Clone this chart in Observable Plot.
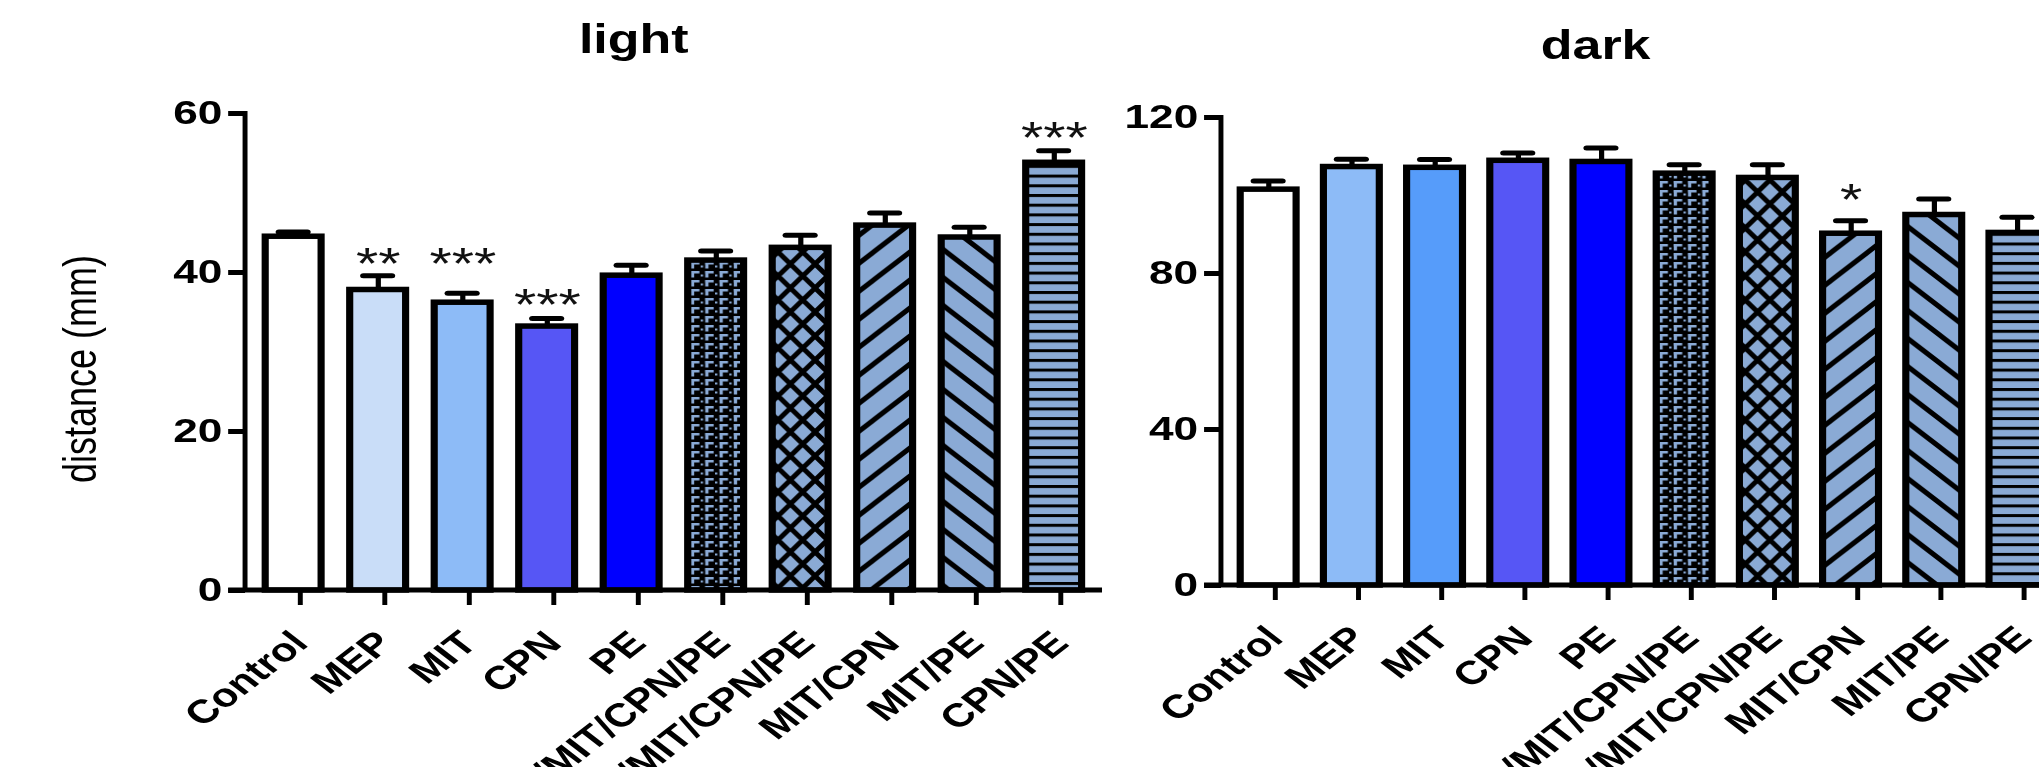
<!DOCTYPE html>
<html><head><meta charset="utf-8">
<script src="https://cdn.jsdelivr.net/npm/d3@7"></script>
<script src="https://cdn.jsdelivr.net/npm/@observablehq/plot@0.6"></script>
<style>
html,body{margin:0;padding:0;background:#fff;overflow:hidden;width:2039px;height:767px;}
#stage{position:absolute;left:0;top:0;width:1618px;height:767px;transform:scaleX(1.3);transform-origin:0 0;}
#light,#dark{position:absolute;top:0;}
#light{left:0px}
#dark{left:877px}
g[aria-label="x-axis tick label"] text, g[aria-label="y-axis tick label"] text{font-weight:bold;}
</style></head><body>
<svg width="0" height="0" style="position:absolute">
<defs>
<pattern id="brick" patternUnits="userSpaceOnUse" width="11" height="9">
 <rect width="11" height="9" fill="#000"/>
 <rect x="3.5" y="1" width="6.5" height="2.5" fill="#8aaad5"/>
 <rect x="3.5" y="1" width="2.5" height="6.5" fill="#8aaad5"/>
 <rect x="0" y="4.5" width="1.8" height="2" fill="#8aaad5"/>
</pattern>
<pattern id="cross" patternUnits="userSpaceOnUse" width="19" height="24">
 <rect width="19" height="24" fill="#8aaad5"/>
 <path d="M-19,-24L38,48M0,-24L57,48M-38,-24L19,48M38,-24L-19,48M57,-24L0,48M19,-24L-38,48" stroke="#000" stroke-width="4.2"/>
</pattern>
<pattern id="fwd" patternUnits="userSpaceOnUse" width="28" height="28">
 <rect width="28" height="28" fill="#8aaad5"/>
 <path d="M56,-28L-28,56M28,-28L-56,56M84,-28L0,56" stroke="#000" stroke-width="4.5"/>
</pattern>
<pattern id="back" patternUnits="userSpaceOnUse" width="28" height="28">
 <rect width="28" height="28" fill="#8aaad5"/>
 <path d="M-28,-28L56,56M0,-28L84,56M-56,-28L28,56" stroke="#000" stroke-width="4.5"/>
</pattern>
<pattern id="horiz" patternUnits="userSpaceOnUse" width="10" height="9.7">
 <rect width="10" height="9.7" fill="#8aaad5"/>
 <rect y="0" width="10" height="3" fill="#000"/>
</pattern>
</defs>
</svg>
<div id="stage"><div id="light"></div><div id="dark"></div></div>
<script>
// ---- data ----
const categories = ["Control","MEP","MIT","CPN","PE","MEP/MIT/CPN/PE","MEP/MIT/CPN/PE","MIT/CPN","MIT/PE","CPN/PE"];
const lightMean = [44.5, 37.8, 36.2, 33.2, 39.6, 41.5, 43.1, 45.9, 44.4, 53.8];
const lightErr  = [45.1, 39.6, 37.4, 34.2, 40.9, 42.7, 44.7, 47.5, 45.7, 55.3];
const darkMean  = [101.5, 107.3, 107.1, 108.9, 108.6, 105.6, 104.5, 90.2, 95.0, 90.4];
const darkErr   = [103.7, 109.3, 109.2, 110.9, 112.2, 107.9, 107.9, 93.5, 99.1, 94.4];
const lightFills = ["#ffffff","#c9ddf8","#8dbbf7","#5656f5","#0000ff","url(#brick)","url(#cross)","url(#fwd)","url(#back)","url(#horiz)"];
const darkFills  = ["#ffffff","#8dbbf7","#569cfa","#5656f5","#0000ff","url(#brick)","url(#cross)","url(#fwd)","url(#back)","url(#horiz)"];
const lightStarIdx = [1, 2, 3, 9];
const lightStarAt  = [42.4, 42.4, 37.2, 58.2];
const lightStarTxt = ["**", "***", "***", "***"];
const darkStarIdx = [7];
const darkStarAt  = [101.5];
const darkStarTxt = ["*"];
const lightTicks = [0, 20, 40, 60];
const darkTicks = [0, 40, 80, 120];

const FONT = "'Liberation Sans', Arial, sans-serif";

function axisLines() {
  return (index, scales, values, dims) => {
    const g = d3.create("svg:g");
    const x0 = dims.marginLeft, x1 = dims.width - dims.marginRight;
    const yT = dims.marginTop, yB = dims.height - dims.marginBottom;
    g.append("line").attr("x1", x0).attr("x2", x0).attr("y1", yT - 2).attr("y2", yB)
      .attr("stroke", "#000").attr("stroke-width", 3.8);
    g.append("line").attr("x1", x0 - 13).attr("x2", x1).attr("y1", yB).attr("y2", yB)
      .attr("stroke", "#000").attr("stroke-width", 5);
    return g.node();
  };
}

function panel(o) {
  const rows = categories.map((c, i) => ({i, m: o.mean[i], e: o.err[i], f: o.fills[i]}));
  const stars = o.starIdx.map((k, j) => ({i: k, y: o.starAt[j], t: o.starTxt[j]}));
  const marks = [
    Plot.barY(rows, {x: "i", y: "m", fill: "f", stroke: "#000", strokeWidth: 5.5}),
    Plot.ruleX(rows, {x: "i", y1: "m", y2: "e", stroke: "#000", strokeWidth: 4}),
    Plot.tickY(rows, {x: "i", y: "e", stroke: "#000", strokeWidth: 5, strokeLinecap: "round", insetLeft: 10.5, insetRight: 10.5}),
    Plot.axisX({tickSize: 15, tickPadding: 32, tickRotate: -45, fontSize: 33, dx: 5, tickFormat: i => categories[i], strokeWidth: 3.8, label: null}),
    Plot.axisY({ticks: o.ticks, tickSize: 13, tickPadding: 5, fontSize: 34, strokeWidth: 5, label: null, tickFormat: d3.format("d")}),
    axisLines(),
    Plot.text(stars, {x: "i", y: "y", text: "t", fontSize: 44, lineAnchor: "middle", dy: 11, fill: "#111"}),
    Plot.text([o.title], {frameAnchor: "top-left", dx: o.tdx, dy: o.tdy, lineAnchor: "bottom", textAnchor: "middle", fontSize: 40, fontWeight: "bold"})
  ];
  if (o.ylabel) marks.push(Plot.text([o.ylabel], {frameAnchor: "left", dx: o.ldx, dy: 17, rotate: -90, textAnchor: "middle", lineAnchor: "middle", fontSize: 36}));
  return Plot.plot({
    width: o.width, height: 767,
    marginLeft: o.ml, marginRight: o.mr, marginTop: o.mt, marginBottom: o.mb,
    style: {fontFamily: FONT, color: "#000", background: "transparent", overflow: "visible"},
    x: {type: "band", domain: d3.range(categories.length), paddingInner: o.pin, paddingOuter: o.pout, align: 0.5, axis: null},
    y: {domain: o.domain, axis: null},
    color: {type: "identity"},
    marks
  });
}

document.getElementById("light").append(panel({
  mean: lightMean, err: lightErr, fills: lightFills,
  starIdx: lightStarIdx, starAt: lightStarAt, starTxt: lightStarTxt,
  ticks: lightTicks, domain: [0, 60],
  width: 877, ml: 188.5, mr: 29.3, mt: 113, mb: 177, pin: 0.341, pout: 0.165,
  title: "light", tdx: 298.5, tdy: -61, ylabel: "distance (mm)", ldx: -127
}));
document.getElementById("dark").append(panel({
  mean: darkMean, err: darkErr, fills: darkFills,
  starIdx: darkStarIdx, starAt: darkStarAt, starTxt: darkStarTxt,
  ticks: darkTicks, domain: [0, 120],
  width: 741, ml: 62.2, mr: 30.3, mt: 117, mb: 182, pin: 0.334, pout: 0.178,
  title: "dark", tdx: 287.7, tdy: -59
}));
</script>
</body></html>
